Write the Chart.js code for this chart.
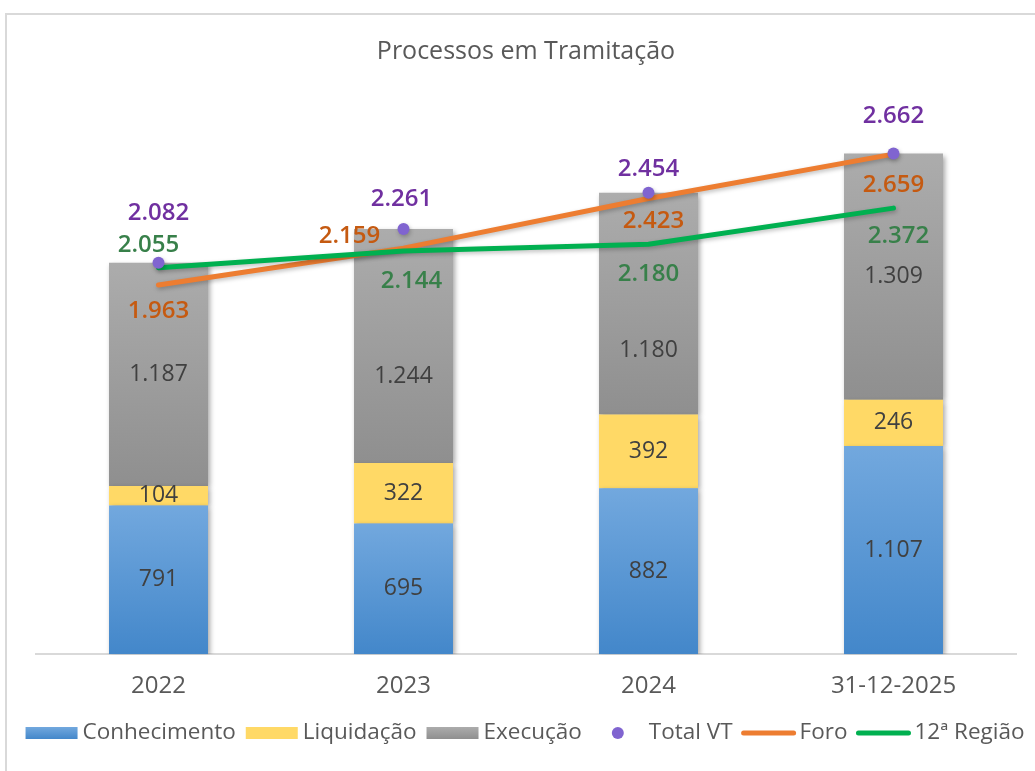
<!DOCTYPE html>
<html>
<head>
<meta charset="utf-8">
<script src="https://cdn.jsdelivr.net/npm/chart.js@4.4.1/dist/chart.umd.min.js"></script>
<style>
  html, body { margin: 0; padding: 0; background: #fff; overflow: hidden; }
  #frame { position: absolute; left: 5px; top: 13px; width: 1036px; height: 756px; border: 2px solid #d9d9d9; }
  canvas { display: block; }
</style>
</head>
<body>
<div id="frame"><canvas id="chart" width="1036" height="756"></canvas></div>
<script>
const categories = ["2022", "2023", "2024", "31-12-2025"];
const conhecimento = [791, 695, 882, 1107];
const liquidacao = [104, 322, 392, 246];
const execucao = [1187, 1244, 1180, 1309];
const totalVT = [2082, 2261, 2454, 2662];
const foro = [1963, 2159, 2423, 2659];
const regiao12 = [2055, 2144, 2180, 2372];

const FONT = "'Open Sans', 'Noto Sans', sans-serif";
const stacks = [conhecimento, liquidacao, execucao];

// label offsets (px) from each line point: [dx, dy]
const lineLabelOffsets = {
  total: [[0, -49], [-2, -30], [0, -24], [0, -37]],
  foro: [[0, 26], [-54, -12], [5, 23], [0, 31]],
  regiao: [[-10, -23], [8, 30], [0, 30], [5, 28]]
};
// some bar labels are pushed down to clear the line labels
const barLabelShift = { "Execução": [0, 30, 47, 0] };

const fmt = (n) => n.toString().replace(/\B(?=(\d{3})+(?!\d))/g, ".");

const barGradient = (top, bottom, stackIndex) => (context) => {
  const chart = context.chart;
  const y = chart.scales.y;
  if (!chart.chartArea || !y || context.dataIndex === undefined) return bottom;
  const i = context.dataIndex;
  let base = 0;
  for (let s = 0; s < stackIndex; s++) base += stacks[s][i];
  const y0 = y.getPixelForValue(base);
  const y1 = y.getPixelForValue(base + stacks[stackIndex][i]);
  const g = chart.ctx.createLinearGradient(0, y1, 0, y0);
  g.addColorStop(0, top);
  g.addColorStop(1, bottom);
  return g;
};

const shadowPlugin = {
  id: "shadow",
  beforeDatasetDraw(chart, args) {
    const ctx = chart.ctx;
    ctx.save();
    if (args.meta.type === "bar") {
      ctx.shadowColor = "rgba(0,0,0,0.35)";
      ctx.shadowBlur = 5;
      ctx.shadowOffsetX = 2;
      ctx.shadowOffsetY = 2;
    } else {
      ctx.shadowColor = "rgba(0,0,0,0.25)";
      ctx.shadowBlur = 4;
      ctx.shadowOffsetX = 1;
      ctx.shadowOffsetY = 2;
    }
  },
  afterDatasetDraw(chart) {
    chart.ctx.restore();
  }
};

const labelPlugin = {
  id: "labels",
  afterDatasetsDraw(chart) {
    const ctx = chart.ctx;
    ctx.save();
    ctx.textAlign = "center";
    ctx.textBaseline = "middle";
    chart.data.datasets.forEach((ds, di) => {
      const meta = chart.getDatasetMeta(di);
      if (ds.type === "bar") {
        ctx.font = "23px " + FONT;
        ctx.fillStyle = "#404040";
        const shift = barLabelShift[ds.label] || [];
        meta.data.forEach((el, i) => {
          ctx.fillText(fmt(ds.data[i]), el.x, (el.y + el.base) / 2 + (shift[i] || 0));
        });
      } else {
        const offs = lineLabelOffsets[ds.key];
        ctx.font = "600 24px " + FONT;
        ctx.fillStyle = ds.labelColor;
        meta.data.forEach((el, i) => {
          ctx.fillText(fmt(ds.data[i]), el.x + offs[i][0], el.y + offs[i][1]);
        });
      }
    });
    ctx.restore();
  }
};

const legendPlugin = {
  id: "customLegend",
  afterDraw(chart) {
    const ctx = chart.ctx;
    const items = chart.data.datasets;
    const sw = 52, gapText = 5, gapItem = 10;
    ctx.save();
    ctx.font = "22.5px " + FONT;
    ctx.textBaseline = "middle";
    let total = 0;
    items.forEach((ds, i) => {
      total += sw + gapText + ctx.measureText(ds.label).width + (i < items.length - 1 ? gapItem : 0);
    });
    let x = chart.width / 2 - total / 2;
    const y = 718;
    items.forEach((ds) => {
      if (ds.type === "bar") {
        const g = ctx.createLinearGradient(0, y - 6, 0, y + 6);
        g.addColorStop(0, ds.legendTop);
        g.addColorStop(1, ds.legendBottom);
        ctx.fillStyle = g;
        ctx.fillRect(x, y - 6, sw, 12);
      } else if (ds.showLine === false) {
        ctx.fillStyle = ds.pointBackgroundColor;
        ctx.beginPath();
        ctx.arc(x + sw / 2, y, 6, 0, Math.PI * 2);
        ctx.fill();
      } else {
        ctx.strokeStyle = ds.borderColor;
        ctx.lineWidth = 5;
        ctx.lineCap = "round";
        ctx.beginPath();
        ctx.moveTo(x + 1, y);
        ctx.lineTo(x + sw - 1, y);
        ctx.stroke();
      }
      x += sw + gapText;
      ctx.fillStyle = "#595959";
      ctx.fillText(ds.label, x, y);
      x += ctx.measureText(ds.label).width + gapItem;
    });
    ctx.restore();
  }
};

const ctx = document.getElementById("chart").getContext("2d");
const chart = new Chart(ctx, {
  data: {
    labels: categories,
    datasets: [
      {
        type: "bar", label: "Conhecimento", data: conhecimento, stack: "bars", order: 5,
        backgroundColor: barGradient("#72a8de", "#4387ca", 0),
        legendTop: "#72a8de", legendBottom: "#4387ca"
      },
      {
        type: "bar", label: "Liquidação", data: liquidacao, stack: "bars", order: 5,
        backgroundColor: "#ffd966", legendTop: "#ffd966", legendBottom: "#ffd966"
      },
      {
        type: "bar", label: "Execução", data: execucao, stack: "bars", order: 5,
        backgroundColor: barGradient("#acacac", "#8f8f8f", 2),
        legendTop: "#acacac", legendBottom: "#8f8f8f"
      },
      {
        type: "line", key: "total", label: "Total VT", data: totalVT, stack: "l1", order: 0,
        showLine: false, pointRadius: 6, pointHoverRadius: 6, pointBorderWidth: 0,
        pointBackgroundColor: "#8064d0", borderColor: "#8064d0", labelColor: "#7030a0"
      },
      {
        type: "line", key: "foro", label: "Foro", data: foro, stack: "l2", order: 2,
        borderColor: "#ed7d31", borderWidth: 5, pointRadius: 0, borderCapStyle: "round",
        borderJoinStyle: "round", tension: 0, labelColor: "#c55a11"
      },
      {
        type: "line", key: "regiao", label: "12ª Região", data: regiao12, stack: "l3", order: 1,
        borderColor: "#00b050", borderWidth: 5, pointRadius: 0, borderCapStyle: "round",
        borderJoinStyle: "round", tension: 0, labelColor: "#38804a"
      }
    ]
  },
  options: {
    responsive: false,
    animation: false,
    layout: { padding: { left: 29, right: 27, top: 0, bottom: 60 } },
    datasets: { bar: { categoryPercentage: 1, barPercentage: 0.404 } },
    scales: {
      x: {
        stacked: true,
        grid: { display: false },
        border: { display: true, color: "#d9d9d9", width: 2 },
        ticks: { color: "#595959", font: { family: FONT, size: 24 }, padding: 10 }
      },
      y: { stacked: true, display: false, min: 0, max: 3000 }
    },
    plugins: {
      legend: { display: false },
      tooltip: { enabled: false },
      title: {
        display: true,
        text: "Processos em Tramitação",
        color: "#595959",
        font: { family: FONT, size: 25, weight: "normal" },
        padding: { top: 22, bottom: 23 }
      }
    }
  },
  plugins: [shadowPlugin, labelPlugin, legendPlugin]
});
</script>
</body>
</html>
